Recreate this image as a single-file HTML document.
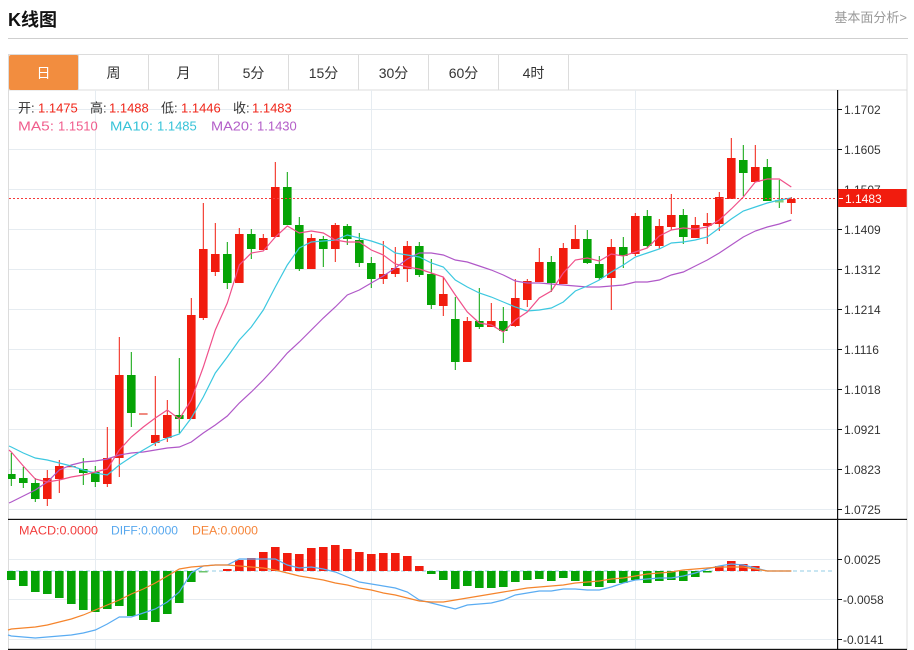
<!DOCTYPE html>
<html><head><meta charset="utf-8"><style>
html,body{margin:0;padding:0;background:#fff;width:914px;height:650px;overflow:hidden}
svg{display:block}
</style></head><body>
<svg width="914" height="650" viewBox="0 0 914 650" xmlns="http://www.w3.org/2000/svg" font-family="'Liberation Sans','Noto Sans CJK SC',sans-serif">
<!-- header -->
<text x="8" y="26" font-size="18" font-weight="bold" fill="#111">K线图</text>
<text x="907" y="22" font-size="13" fill="#999" text-anchor="end">基本面分析&gt;</text>
<rect x="8" y="38" width="900" height="1" fill="#cfcfcf"/>
<!-- tabs -->
<rect x="8.5" y="54.5" width="898.5" height="35.5" fill="#fff" stroke="#dcdcdc" stroke-width="1"/>
<rect x="9" y="55" width="69.5" height="35" rx="2" fill="#f28d3f"/>
<g stroke="#dcdcdc" stroke-width="1">
<line x1="78.5" y1="55" x2="78.5" y2="90"/><line x1="148.5" y1="55" x2="148.5" y2="90"/><line x1="218.5" y1="55" x2="218.5" y2="90"/><line x1="288.5" y1="55" x2="288.5" y2="90"/><line x1="358.5" y1="55" x2="358.5" y2="90"/><line x1="428.5" y1="55" x2="428.5" y2="90"/><line x1="498.5" y1="55" x2="498.5" y2="90"/><line x1="568.5" y1="55" x2="568.5" y2="90"/>
</g>
<g font-size="14" text-anchor="middle" fill="#333">
<text x="43.5" y="78" fill="#fff">日</text><text x="113.5" y="78">周</text><text x="183.5" y="78">月</text><text x="253.5" y="78">5分</text><text x="323.5" y="78">15分</text><text x="393.5" y="78">30分</text><text x="463.5" y="78">60分</text><text x="533.5" y="78">4时</text>
</g>
<!-- chart frame -->
<rect x="8" y="90" width="1" height="560" fill="#dcdcdc"/>
<rect x="906.5" y="90" width="1" height="560" fill="#dcdcdc"/>
<!-- grid -->
<g stroke="#e6ecf1" stroke-width="1">
<line x1="9" y1="109.5" x2="837" y2="109.5"/><line x1="9" y1="149.5" x2="837" y2="149.5"/><line x1="9" y1="189.5" x2="837" y2="189.5"/><line x1="9" y1="229.5" x2="837" y2="229.5"/><line x1="9" y1="269.5" x2="837" y2="269.5"/><line x1="9" y1="309.5" x2="837" y2="309.5"/><line x1="9" y1="349.5" x2="837" y2="349.5"/><line x1="9" y1="389.5" x2="837" y2="389.5"/><line x1="9" y1="429.5" x2="837" y2="429.5"/><line x1="9" y1="469.5" x2="837" y2="469.5"/><line x1="9" y1="509.5" x2="837" y2="509.5"/>
<line x1="9" y1="559.5" x2="837" y2="559.5"/><line x1="9" y1="599.5" x2="837" y2="599.5"/><line x1="9" y1="639.5" x2="837" y2="639.5"/>
<line x1="95.5" y1="90" x2="95.5" y2="649"/><line x1="371.5" y1="90" x2="371.5" y2="649"/><line x1="635.5" y1="90" x2="635.5" y2="649"/>
</g>
<!-- info text -->
<g font-size="13">
<text x="18" y="112.5" fill="#333">开:</text><text x="38" y="112.5" fill="#f0261a">1.1475</text>
<text x="90" y="112.5" fill="#333">高:</text><text x="109" y="112.5" fill="#f0261a">1.1488</text>
<text x="161" y="112.5" fill="#333">低:</text><text x="181" y="112.5" fill="#f0261a">1.1446</text>
<text x="233" y="112.5" fill="#333">收:</text><text x="252" y="112.5" fill="#f0261a">1.1483</text>
<text x="18" y="130.5" fill="#f05c8c" textLength="36" lengthAdjust="spacingAndGlyphs">MA5:</text><text x="58" y="130.5" fill="#f05c8c">1.1510</text>
<text x="110" y="130.5" fill="#37c3d8" textLength="43" lengthAdjust="spacingAndGlyphs">MA10:</text><text x="157" y="130.5" fill="#37c3d8">1.1485</text>
<text x="211" y="130.5" fill="#b35ec8" textLength="42" lengthAdjust="spacingAndGlyphs">MA20:</text><text x="257" y="130.5" fill="#b35ec8">1.1430</text>
</g>
<!-- MACD zero line -->
<line x1="9" y1="571" x2="834" y2="571" stroke="#a9d6ea" stroke-width="1.2" stroke-dasharray="4,3"/>
<!-- MACD bars green -->
<g fill="#05a305">
<rect x="7" y="571" width="8.6" height="9"/><rect x="19" y="571" width="8.6" height="15"/><rect x="31" y="571" width="8.6" height="21"/><rect x="43" y="571" width="8.6" height="23"/><rect x="55" y="571" width="8.6" height="27"/><rect x="67" y="571" width="8.6" height="33"/><rect x="79" y="571" width="8.6" height="39"/><rect x="91" y="571" width="8.6" height="41"/><rect x="103" y="571" width="8.6" height="38"/><rect x="115" y="571" width="8.6" height="35"/><rect x="127" y="571" width="8.6" height="45"/><rect x="139" y="571" width="8.6" height="49"/><rect x="151" y="571" width="8.6" height="51"/><rect x="163" y="571" width="8.6" height="43"/><rect x="175" y="571" width="8.6" height="32"/><rect x="187" y="571" width="8.6" height="11"/>
<rect x="427" y="571" width="8.6" height="3"/><rect x="439" y="571" width="8.6" height="9"/><rect x="451" y="571" width="8.6" height="18"/><rect x="463" y="571" width="8.6" height="15"/><rect x="475" y="571" width="8.6" height="17"/><rect x="487" y="571" width="8.6" height="17"/><rect x="499" y="571" width="8.6" height="16"/><rect x="511" y="571" width="8.6" height="11"/><rect x="523" y="571" width="8.6" height="9"/><rect x="535" y="571" width="8.6" height="8"/><rect x="547" y="571" width="8.6" height="10"/><rect x="559" y="571" width="8.6" height="7"/><rect x="571" y="571" width="8.6" height="10"/><rect x="583" y="571" width="8.6" height="15"/><rect x="595" y="571" width="8.6" height="16"/><rect x="607" y="571" width="8.6" height="12"/><rect x="619" y="571" width="8.6" height="12"/><rect x="631" y="571" width="8.6" height="9"/><rect x="643" y="571" width="8.6" height="12"/><rect x="655" y="571" width="8.6" height="10"/><rect x="667" y="571" width="8.6" height="9"/><rect x="679" y="571" width="8.6" height="10"/><rect x="691" y="571" width="8.6" height="6"/><rect x="703" y="571" width="8.6" height="1.5"/>
</g>
<rect x="199" y="571" width="8.6" height="1.5" fill="#6cc46c"/>
<!-- MACD bars red -->
<g fill="#f11c0e">
<rect x="223" y="569" width="8.6" height="2"/><rect x="235" y="560" width="8.6" height="11"/><rect x="247" y="558" width="8.6" height="13"/><rect x="259" y="552" width="8.6" height="19"/><rect x="271" y="547" width="8.6" height="24"/><rect x="283" y="553" width="8.6" height="18"/><rect x="295" y="554" width="8.6" height="17"/><rect x="307" y="548" width="8.6" height="23"/><rect x="319" y="547" width="8.6" height="24"/><rect x="331" y="545" width="8.6" height="26"/><rect x="343" y="549" width="8.6" height="22"/><rect x="355" y="552" width="8.6" height="19"/><rect x="367" y="554" width="8.6" height="17"/><rect x="379" y="553" width="8.6" height="18"/><rect x="391" y="553" width="8.6" height="18"/><rect x="403" y="556" width="8.6" height="15"/><rect x="415" y="566" width="8.6" height="5"/>
<rect x="715" y="566" width="8.6" height="5"/><rect x="727" y="561" width="8.6" height="10"/><rect x="739" y="564" width="8.6" height="7"/><rect x="751" y="566" width="8.6" height="5"/>
</g>
<!-- DIFF / DEA -->
<polyline fill="none" stroke="#5aacf2" stroke-width="1.2" points="8,635 11.3,636 23.3,637 35.3,638 47.3,637 59.3,636 71.3,635 83.3,633 95.3,630 107.3,624 119.3,617 131.3,617 143.3,613 155.3,609 167.3,602 179.3,592 191.3,573 203.3,566 215.3,565 227.3,565 239.3,559 251.3,559 263.3,559 275.3,559 287.3,565 299.3,568 311.3,567 323.3,569 335.3,572 347.3,577 359.3,582 371.3,584 383.3,586 395.3,588 407.3,592 419.3,600 431.3,603 443.3,606 455.3,609 467.3,605 479.3,604 491.3,603 503.3,600 515.3,595 527.3,593 539.3,591 551.3,591 563.3,589 575.3,589 587.3,590 599.3,590 611.3,587 623.3,583 635.3,580 647.3,579 659.3,578 671.3,578 683.3,576 695.3,573 707.3,569 719.3,566 731.3,564 743.3,565 755.3,568 767.3,571 779.3,571 791.3,571"/>
<polyline fill="none" stroke="#f5842c" stroke-width="1.2" points="8,630 11.3,629 23.3,628 35.3,627 47.3,625 59.3,622 71.3,619 83.3,615 95.3,610 107.3,605 119.3,600 131.3,594 143.3,589 155.3,583 167.3,576 179.3,569 191.3,567 203.3,566 215.3,565 227.3,565 239.3,566 251.3,567 263.3,568 275.3,570 287.3,573 299.3,576 311.3,578 323.3,580 335.3,583 347.3,585 359.3,588 371.3,590 383.3,593 395.3,595 407.3,598 419.3,601 431.3,602 443.3,602 455.3,600 467.3,598 479.3,596 491.3,594 503.3,592 515.3,590 527.3,588 539.3,587 551.3,586 563.3,585 575.3,583 587.3,582 599.3,581 611.3,579 623.3,578 635.3,576 647.3,574 659.3,573 671.3,572 683.3,570 695.3,569 707.3,568 719.3,567 731.3,567 743.3,567 755.3,569 767.3,571 779.3,571 791.3,571"/>
<!-- candles red -->
<g fill="#f11c0e">
<rect x="46.8" y="470" width="1" height="36"/><rect x="43" y="478" width="8.6" height="21"/>
<rect x="58.8" y="460" width="1" height="33"/><rect x="55" y="466" width="8.6" height="13"/>
<rect x="67" y="466" width="8.6" height="1.2"/>
<rect x="106.8" y="427" width="1" height="60"/><rect x="103" y="458" width="8.6" height="26"/>
<rect x="118.8" y="337" width="1" height="140"/><rect x="115" y="375" width="8.6" height="83"/>
<rect x="154.8" y="376" width="1" height="70"/><rect x="151" y="435" width="8.6" height="8"/>
<rect x="166.8" y="400" width="1" height="42"/><rect x="163" y="415" width="8.6" height="23"/>
<rect x="190.8" y="298" width="1" height="121"/><rect x="187" y="315" width="8.6" height="104"/>
<rect x="202.8" y="203" width="1" height="117"/><rect x="199" y="249" width="8.6" height="69"/>
<rect x="214.8" y="223" width="1" height="53"/><rect x="211" y="254" width="8.6" height="18"/>
<rect x="238.8" y="228" width="1" height="55"/><rect x="235" y="234" width="8.6" height="49"/>
<rect x="262.8" y="234" width="1" height="16"/><rect x="259" y="238" width="8.6" height="12"/>
<rect x="274.8" y="162" width="1" height="75"/><rect x="271" y="187" width="8.6" height="50"/>
<rect x="310.8" y="234" width="1" height="35"/><rect x="307" y="238" width="8.6" height="31"/>
<rect x="334.8" y="223" width="1" height="39"/><rect x="331" y="225" width="8.6" height="24"/>
<rect x="382.8" y="241" width="1" height="43"/><rect x="379" y="274" width="8.6" height="5"/>
<rect x="394.8" y="247" width="1" height="30"/><rect x="391" y="268" width="8.6" height="6"/>
<rect x="406.8" y="241" width="1" height="41"/><rect x="403" y="246" width="8.6" height="23"/>
<rect x="442.8" y="277" width="1" height="39"/><rect x="439" y="294" width="8.6" height="12"/>
<rect x="466.8" y="317" width="1" height="45"/><rect x="463" y="321" width="8.6" height="41"/>
<rect x="490.8" y="303" width="1" height="24"/><rect x="487" y="321" width="8.6" height="6"/>
<rect x="514.8" y="279" width="1" height="48"/><rect x="511" y="298" width="8.6" height="28"/>
<rect x="526.8" y="279" width="1" height="28"/><rect x="523" y="281" width="8.6" height="19"/>
<rect x="538.8" y="248" width="1" height="34"/><rect x="535" y="262" width="8.6" height="20"/>
<rect x="562.8" y="243" width="1" height="41"/><rect x="559" y="248" width="8.6" height="36"/>
<rect x="574.8" y="225" width="1" height="24"/><rect x="571" y="239" width="8.6" height="10"/>
<rect x="610.8" y="239" width="1" height="71"/><rect x="607" y="247" width="8.6" height="31"/>
<rect x="634.8" y="213" width="1" height="43"/><rect x="631" y="216" width="8.6" height="38"/>
<rect x="658.8" y="219" width="1" height="30"/><rect x="655" y="226" width="8.6" height="20"/>
<rect x="670.8" y="194" width="1" height="36"/><rect x="667" y="215" width="8.6" height="12"/>
<rect x="694.8" y="217" width="1" height="21"/><rect x="691" y="225" width="8.6" height="13"/>
<rect x="706.8" y="213" width="1" height="31"/><rect x="703" y="223" width="8.6" height="3"/>
<rect x="718.8" y="192" width="1" height="39"/><rect x="715" y="197" width="8.6" height="27"/>
<rect x="730.8" y="138" width="1" height="61"/><rect x="727" y="158" width="8.6" height="41"/>
<rect x="754.8" y="145" width="1" height="37"/><rect x="751" y="167" width="8.6" height="15"/>
<rect x="790.8" y="197" width="1" height="17"/><rect x="787" y="199" width="8.6" height="4"/>
</g>
<rect x="139" y="413" width="8.6" height="2" fill="#f08a80"/>
<!-- candles green -->
<g fill="#05a305">
<rect x="10.8" y="453" width="1" height="33"/><rect x="8" y="474" width="7.6" height="5"/>
<rect x="22.8" y="467" width="1" height="21"/><rect x="19" y="478" width="8.6" height="5"/>
<rect x="34.8" y="478" width="1" height="24"/><rect x="31" y="483" width="8.6" height="16"/>
<rect x="82.8" y="458" width="1" height="27"/><rect x="79" y="469" width="8.6" height="4"/>
<rect x="94.8" y="466" width="1" height="21"/><rect x="91" y="472" width="8.6" height="10"/>
<rect x="130.8" y="352" width="1" height="75"/><rect x="127" y="375" width="8.6" height="38"/>
<rect x="178.8" y="358" width="1" height="75"/><rect x="175" y="415" width="8.6" height="4"/>
<rect x="226.8" y="242" width="1" height="47"/><rect x="223" y="254" width="8.6" height="29"/>
<rect x="250.8" y="229" width="1" height="30"/><rect x="247" y="234" width="8.6" height="15"/>
<rect x="286.8" y="172" width="1" height="53"/><rect x="283" y="187" width="8.6" height="38"/>
<rect x="298.8" y="217" width="1" height="54"/><rect x="295" y="225" width="8.6" height="44"/>
<rect x="322.8" y="236" width="1" height="31"/><rect x="319" y="239" width="8.6" height="10"/>
<rect x="346.8" y="224" width="1" height="21"/><rect x="343" y="226" width="8.6" height="13"/>
<rect x="358.8" y="233" width="1" height="34"/><rect x="355" y="240" width="8.6" height="23"/>
<rect x="370.8" y="257" width="1" height="31"/><rect x="367" y="263" width="8.6" height="16"/>
<rect x="418.8" y="242" width="1" height="35"/><rect x="415" y="246" width="8.6" height="29"/>
<rect x="430.8" y="259" width="1" height="50"/><rect x="427" y="274" width="8.6" height="31"/>
<rect x="454.8" y="297" width="1" height="73"/><rect x="451" y="319" width="8.6" height="43"/>
<rect x="478.8" y="288" width="1" height="41"/><rect x="475" y="321" width="8.6" height="6"/>
<rect x="502.8" y="307" width="1" height="36"/><rect x="499" y="321" width="8.6" height="10"/>
<rect x="550.8" y="256" width="1" height="36"/><rect x="547" y="262" width="8.6" height="21"/>
<rect x="586.8" y="230" width="1" height="34"/><rect x="583" y="239" width="8.6" height="24"/>
<rect x="598.8" y="256" width="1" height="24"/><rect x="595" y="264" width="8.6" height="14"/>
<rect x="622.8" y="237" width="1" height="31"/><rect x="619" y="247" width="8.6" height="9"/>
<rect x="646.8" y="210" width="1" height="38"/><rect x="643" y="216" width="8.6" height="30"/>
<rect x="682.8" y="209" width="1" height="35"/><rect x="679" y="215" width="8.6" height="22"/>
<rect x="742.8" y="145" width="1" height="51"/><rect x="739" y="160" width="8.6" height="13"/>
<rect x="766.8" y="159" width="1" height="42"/><rect x="763" y="167" width="8.6" height="34"/>
<rect x="778.8" y="180" width="1" height="28"/>
</g>
<rect x="775" y="200" width="8.6" height="2.5" fill="#7dd07d"/>
<!-- MA lines -->
<polyline fill="none" stroke="#b058c8" stroke-width="1.2" points="9,503 11.3,502 23.3,496 35.3,490 47.3,482 59.3,470 71.3,465 83.3,462 95.3,461 107.3,459 119.3,455 131.3,453 143.3,452 155.3,450 167.3,448 179.3,447 191.3,442 203.3,433 215.3,425 227.3,416 239.3,403 251.3,392 263.3,380 275.3,367 287.3,353 299.3,342 311.3,330 323.3,318 335.3,307 347.3,295 359.3,290 371.3,283 383.3,276 395.3,268 407.3,259 419.3,253 431.3,253 443.3,255 455.3,260 467.3,262 479.3,266 491.3,270 503.3,275 515.3,281 527.3,283 539.3,283 551.3,284 563.3,285 575.3,286 587.3,287 599.3,287 611.3,286 623.3,285 635.3,282 647.3,282 659.3,280 671.3,275 683.3,272 695.3,266 707.3,260 719.3,253 731.3,245 743.3,237 755.3,231 767.3,227 779.3,224 791.3,220"/>
<polyline fill="none" stroke="#3cc8e0" stroke-width="1.2" points="9,446 11.3,447 23.3,453 35.3,458 47.3,460 59.3,463 71.3,466 83.3,470 95.3,473 107.3,475 119.3,465 131.3,457 143.3,450 155.3,443 167.3,438 179.3,434 191.3,418 203.3,397 215.3,373 227.3,357 239.3,340 251.3,327 263.3,310 275.3,287 287.3,265 299.3,248 311.3,242 323.3,241 335.3,240 347.3,235 359.3,238 371.3,241 383.3,245 395.3,253 407.3,255 419.3,257 431.3,263 443.3,267 455.3,280 467.3,287 479.3,293 491.3,297 503.3,302 515.3,307 527.3,311 539.3,310 551.3,308 563.3,302 575.3,291 587.3,286 599.3,280 611.3,272 623.3,265 635.3,257 647.3,253 659.3,249 671.3,243 683.3,242 695.3,240 707.3,237 719.3,228 731.3,219 743.3,211 755.3,207 767.3,203 779.3,200 791.3,198"/>
<polyline fill="none" stroke="#f0508a" stroke-width="1.2" points="9,450 11.3,452 23.3,466 35.3,479 47.3,482 59.3,480 71.3,477 83.3,475 95.3,472 107.3,469 119.3,450 131.3,437 143.3,427 155.3,418 167.3,410 179.3,419 191.3,400 203.3,367 215.3,330 227.3,303 239.3,265 251.3,253 263.3,251 275.3,237 287.3,226 299.3,233 311.3,231 323.3,233 335.3,240 347.3,242 359.3,242 371.3,250 383.3,255 395.3,264 407.3,267 419.3,269 431.3,273 443.3,277 455.3,295 467.3,312 479.3,323 491.3,325 503.3,332 515.3,320 527.3,312 539.3,298 551.3,291 563.3,273 575.3,260 587.3,258 599.3,261 611.3,254 623.3,256 635.3,252 647.3,248 659.3,236 671.3,230 683.3,228 695.3,229 707.3,227 719.3,220 731.3,209 743.3,197 755.3,182 767.3,179 779.3,179 791.3,187"/>
<!-- current price dotted line -->
<line x1="9" y1="198.5" x2="837" y2="198.5" stroke="#f53a3a" stroke-width="1" stroke-dasharray="2,2"/>
<!-- axes lines -->
<rect x="837" y="90" width="1.2" height="560" fill="#111"/>
<rect x="8" y="518.8" width="899" height="1.2" fill="#111"/>
<rect x="8" y="648.8" width="899" height="1.2" fill="#111"/>
<!-- ticks -->
<g stroke="#111" stroke-width="1">
<line x1="837" y1="109.5" x2="842" y2="109.5"/><line x1="837" y1="149.5" x2="842" y2="149.5"/><line x1="837" y1="189.5" x2="842" y2="189.5"/><line x1="837" y1="229.5" x2="842" y2="229.5"/><line x1="837" y1="269.5" x2="842" y2="269.5"/><line x1="837" y1="309.5" x2="842" y2="309.5"/><line x1="837" y1="349.5" x2="842" y2="349.5"/><line x1="837" y1="389.5" x2="842" y2="389.5"/><line x1="837" y1="429.5" x2="842" y2="429.5"/><line x1="837" y1="469.5" x2="842" y2="469.5"/><line x1="837" y1="509.5" x2="842" y2="509.5"/>
<line x1="837" y1="559.5" x2="842" y2="559.5"/><line x1="837" y1="599.5" x2="842" y2="599.5"/><line x1="837" y1="639.5" x2="842" y2="639.5"/>
</g>
<g font-size="12" fill="#333">
<text x="844" y="114">1.1702</text><text x="844" y="154">1.1605</text><text x="844" y="194">1.1507</text><text x="844" y="234">1.1409</text><text x="844" y="274">1.1312</text><text x="844" y="314">1.1214</text><text x="844" y="354">1.1116</text><text x="844" y="394">1.1018</text><text x="844" y="434">1.0921</text><text x="844" y="474">1.0823</text><text x="844" y="514">1.0725</text>
<text x="844" y="564">0.0025</text><text x="843" y="604">-0.0058</text><text x="843" y="644">-0.0141</text>
</g>
<!-- price tag -->
<rect x="838.2" y="189" width="68.5" height="18" fill="#f11c0e"/>
<line x1="839" y1="198.5" x2="843" y2="198.5" stroke="#fff" stroke-width="1"/>
<text x="845" y="203" font-size="12" fill="#fff">1.1483</text>
<!-- MACD legend -->
<g font-size="12">
<text x="19" y="534.5" fill="#f23d3d" textLength="79" lengthAdjust="spacingAndGlyphs">MACD:0.0000</text>
<text x="111" y="534.5" fill="#58a8ee" textLength="67" lengthAdjust="spacingAndGlyphs">DIFF:0.0000</text>
<text x="192" y="534.5" fill="#f5853a" textLength="66" lengthAdjust="spacingAndGlyphs">DEA:0.0000</text>
</g>
</svg>
</body></html>
